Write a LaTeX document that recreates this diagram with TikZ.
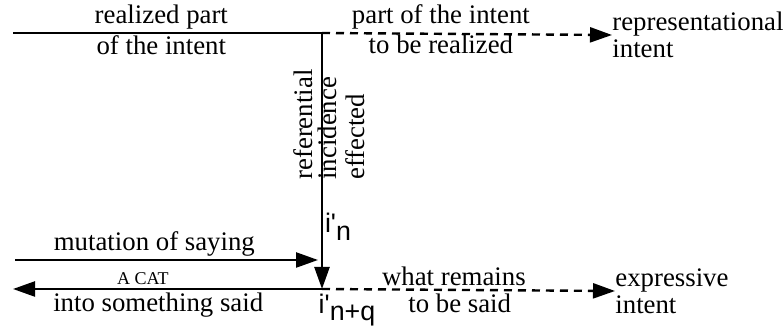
\documentclass[tikz,border=0pt]{standalone}
\usepackage{fontspec}
\setmainfont{Liberation Serif}
\setsansfont{Liberation Sans}
\usetikzlibrary{arrows.meta}

\newcommand{\ipos}[1]{{\sffamily i\textquotesingle\raisebox{-.55ex}{#1}}}

\begin{document}
\begin{tikzpicture}[x=0.5pt, y=-0.5pt, >={Triangle[length=11pt, width=7.5pt]},
    every node/.style={font=\fontsize{13.4}{14}\selectfont, inner sep=1.5pt},
    flow/.style={line width=1.2pt},
    todo/.style={line width=1.2pt, dash pattern=on 4pt off 3pt},
    vlabel/.style={rotate=90, anchor=west},
    goal/.style={anchor=west, align=left, inner sep=0pt}]
    \useasboundingbox (0,0) rectangle (784,331);

    % end points
    \coordinate (pastend) at (13,33);
    \coordinate (now) at (322,33);
    \coordinate (said) at (322,289);
    \coordinate (saidend) at (13,289);
    \coordinate (mutstart) at (15,260);
    \coordinate (mutend) at (318,260);

    \node (repr) [goal] at (612,35) {representational\\[-0.5pt]intent};
    \node (expr) [goal] at (615,291) {expressive\\[-0.5pt]intent};

    % top line
    \draw [flow] (pastend) -- node[above, pos=0.48] {realized part} node[below, pos=0.48, inner sep=0.5pt] {of the intent} (now);
    \draw [todo, ->] (now) -- node[above, pos=0.41] {part of the intent} node[below, pos=0.41, inner sep=0pt] {to be realized} (repr.west);

    % vertical line
    \draw [flow, ->] (now) -- (said);
    \node (ref) [vlabel] at (303,183) {referential};
    \node (inc) [vlabel] at (327,183) {incidence};
    \node (eff) [vlabel] at (355,183) {effected};
    \node (in) at (338,227) {\ipos{n}};
    \node (inq) at (347,310) {\ipos{n+q}};

    % bottom lines
    \draw [flow, ->] (mutstart) -- node[above, pos=0.46] {mutation of saying} (mutend);
    \draw [flow, ->] (said) -- node[above, pos=0.58, font=\fontsize{9}{10}\selectfont] {A CAT} node[below, pos=0.53] {into something said} (saidend);
    \draw [todo, ->] (said) -- node[above, pos=0.45] {what remains} node[below, pos=0.47] {to be said} (expr.west);
\end{tikzpicture}
\end{document}
